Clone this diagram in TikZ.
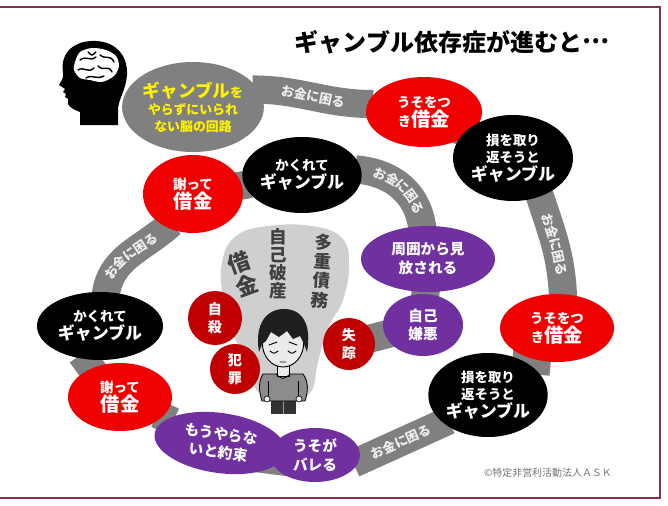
\documentclass[tikz,border=0pt]{standalone}
\usepackage{fontspec}
\newfontfamily\jp{Noto Sans CJK JP}
\usetikzlibrary{shapes.geometric,decorations.text,backgrounds}

\definecolor{bubred}{HTML}{F00000}
\definecolor{dotred}{HTML}{C00000}
\definecolor{bubpurple}{HTML}{7030A0}
\definecolor{bandgray}{HTML}{808080}
\definecolor{bandtext}{HTML}{EEEEEE}
\definecolor{fog}{HTML}{CFCFCF}
\definecolor{ink}{HTML}{404040}
\definecolor{framered}{HTML}{84304A}

% emphasised words inside the bubbles
\newcommand*\gamb{{\fontsize{14.5}{17}\selectfont\bfseries ギャンブル}}
\newcommand*\shakkin{{\fontsize{16.5}{18}\selectfont\bfseries 借金}}

\begin{document}
\begin{tikzpicture}[x=0.03cm, y=-0.03cm,
  bubble/.style={ellipse, inner sep=0pt, outer sep=0pt, align=center, text=white,
    font=\jp\bfseries\fontsize{11.5}{15}\selectfont},
  redbub/.style={bubble, fill=bubred},
  blackbub/.style={bubble, fill=black},
  purplebub/.style={bubble, fill=bubpurple, font=\jp\bfseries\fontsize{12.5}{16}\selectfont},
  dot/.style={circle, fill=dotred, text=white, inner sep=0pt, align=center,
    font=\jp\bfseries\fontsize{12}{15}\selectfont},
  band/.style={draw=bandgray, line width=24pt, shorten <=-5pt, shorten >=-5pt},
  moneyband/.style={band,
    postaction={decorate, decoration={text along path, text align=center,
      raise=-4pt, text={|\jp\bfseries\fontsize{11}{11}\selectfont\color{bandtext}|お金に困る}}}},
  scrawl/.style={text=ink, align=center, inner sep=0pt}
]
\useasboundingbox (0,0) rectangle (668,506);
\draw[framered, line width=1.5pt] (-20,7) -- (660,7) -- (660,498) -- (-20,498);

\node[font=\jp\bfseries\fontsize{20.5}{22}\selectfont] (title) at (452,42)
  {ギャンブル依存症が進むと\raisebox{0.33em}{…}};

% head with the brain
\fill[black] (80,125) -- (80,112) .. controls (75,110) and (70,108) .. (68,104)
  -- (68,99) -- (65,97) -- (66,94) -- (63,92) -- (65,89) -- (59,85)
  .. controls (62,80) and (64,77) .. (63,72)
  .. controls (60,52) and (75,40) .. (96,41)
  .. controls (118,42) and (128,58) .. (127,75)
  .. controls (126,90) and (118,100) .. (118,110) -- (118,125) -- cycle;
\fill[white] plot[smooth cycle] coordinates {(75,62) (80,52) (92,48) (106,50)
  (116,56) (119,66) (114,76) (102,82) (90,80) (80,78) (74,70)};
\draw[black, line width=1.2pt, line cap=round]
  (80,60) .. controls (86,55) and (90,62) .. (96,57)
  (100,55) .. controls (106,60) and (110,54) .. (114,62)
  (78,70) .. controls (84,66) and (88,74) .. (94,68)
  (98,66) .. controls (104,72) and (108,64) .. (112,72)
  (86,78) .. controls (92,74) and (96,80) .. (104,76)
  (88,52) .. controls (92,56) .. (96,52);

% cloud behind the boy
\fill[fog] plot[smooth cycle, tension=0.7] coordinates {(222,262) (236,236) (268,226)
  (312,226) (342,238) (349,265) (343,300) (328,328) (318,362) (310,393) (284,398)
  (258,392) (248,362) (232,332) (223,298)};
\node[scrawl, rotate=20, font=\jp\bfseries\fontsize{19}{21}\selectfont] (loan)
  at (243,274) {借\\金};
\node[scrawl, font=\jp\bfseries\fontsize{15}{15.5}\selectfont] (bankrupt)
  at (278,264) {自\\己\\破\\産};
\node[scrawl, rotate=-4, font=\jp\bfseries\fontsize{15}{16.5}\selectfont] (multidebt)
  at (322,271) {多\\重\\債\\務};

% the boy
\fill[black!80] (271,396) rectangle (296,414);
\draw[white!60!black, line width=0.6pt] (283.5,401) -- (283.5,414);
\filldraw[fill=black!45, draw=black, line width=0.7pt] (263,374)
  .. controls (258,382) and (259,392) .. (262,401) -- (305,401)
  .. controls (308,392) and (309,382) .. (303,374) -- cycle;
\draw[black, line width=0.7pt] (268,381) -- (268,397) (298,381) -- (298,397);
\filldraw[fill=white!92!black, draw=black, line width=0.5pt]
  (267,399) circle [radius=0.09cm] (299,399) circle [radius=0.09cm];
\filldraw[fill=white!92!black, draw=black, line width=0.6pt] (277,364) rectangle (289,376);
\draw[black, line width=0.6pt] (276,374) .. controls (283,380) .. (290,374);
\filldraw[fill=white!92!black, draw=black, line width=0.8pt]
  (283,343) ellipse [x radius=0.62cm, y radius=0.72cm];
\fill[black!88] (259,352) .. controls (254,322) and (268,309) .. (284,309)
  .. controls (302,309) and (312,324) .. (307,352) -- (304,344) -- (300,336)
  -- (293,339) -- (287,331) -- (279,337) -- (271,332) -- (266,341) -- (262,344) -- cycle;
\draw[black, line width=0.8pt, line cap=round]
  (270,351) .. controls (274,354) .. (278,351)
  (288,351) .. controls (292,354) .. (296,351)
  (269,345) -- (277,342) (289,342) -- (297,345)
  (280,362) -- (286,362);

% bubbles along the spiral
\node[bubble, fill=bandgray, text=yellow, minimum width=4.2cm, minimum height=2.7cm,
  font=\jp\bfseries\fontsize{11}{14.5}\selectfont] (brain) at (193,107)
  {{\fontsize{15}{17}\selectfont ギャンブル}を\\やらずにいられ\\ない脳の回路};
\node[redbub, minimum width=3.48cm, minimum height=2.1cm] (lieA) at (424,112)
  {うそをつ\\き\shakkin};
\node[blackbub, minimum width=3.6cm, minimum height=2.58cm] (chaseA) at (513,158)
  {損を取り\\返そうと\\\gamb};
\node[redbub, minimum width=3.42cm, minimum height=2.04cm] (lieB) at (557,328)
  {うそをつ\\き\shakkin};
\node[blackbub, minimum width=3.54cm, minimum height=2.52cm] (chaseB) at (488,395)
  {損を取り\\返そうと\\\gamb};
\node[purplebub, minimum width=2.7cm, minimum height=1.62cm] (caught) at (315,455)
  {うそが\\バレる};
\node[purplebub, minimum width=3.96cm, minimum height=1.8cm, rotate=-8] (promise)
  at (220,443) {もうやらな\\いと約束};
\node[redbub, minimum width=3.12cm, minimum height=2.04cm] (sorryA) at (120,397)
  {謝って\\\shakkin};
\node[blackbub, minimum width=3.78cm, minimum height=2.04cm] (hideA) at (100,326)
  {かくれて\\\gamb};
\node[redbub, minimum width=3.0cm, minimum height=2.34cm] (sorryB) at (193,194)
  {謝って\\\shakkin};
\node[blackbub, minimum width=3.48cm, minimum height=2.28cm] (hideB) at (302,175)
  {かくれて\\\gamb};
\node[purplebub, minimum width=4.02cm, minimum height=1.98cm] (shunned) at (428,259)
  {周囲から見\\放される};
\node[purplebub, minimum width=2.4cm, minimum height=1.86cm] (selfhate) at (423,325)
  {自己\\嫌悪};
\node[dot, minimum size=1.56cm] (vanish) at (349,344) {失\\踪};
\node[dot, minimum size=1.62cm] (suicide) at (215,318) {自\\殺};
\node[dot, minimum size=1.5cm] (crime) at (235,369) {犯\\罪};

\node[text=black!55, font=\jp\fontsize{8.5}{9}\selectfont] (copy) at (548,473)
  {©特定非営利活動法人ＡＳＫ};

% gray road between the bubbles
\begin{scope}[on background layer]
\draw[moneyband] (brain.15) to[out=0,in=180] (lieA.172);
\draw[band] (lieA) -- (chaseA);
\draw[moneyband] (chaseA.-55) to[out=-72,in=92] (lieB.80);
\draw[band] (lieB.250) -- (chaseB.50);
\draw[moneyband] (caught.-8) -- (chaseB.212);
\draw[band] ([yshift=-9pt]promise.center) -- ([yshift=-9pt]caught.center);
\draw[band] (promise) -- (sorryA);
\draw[band] (hideA.245) -- (sorryA.135);
\draw[moneyband] (hideA.80) to[out=85,in=222] (sorryB.232);
\draw[band] (sorryB) -- (hideB);
\draw[moneyband] (hideB.5) to[out=-5,in=95] (shunned.100);
\draw[band] (shunned) -- (selfhate);
\draw[band] (selfhate) -- (vanish);
\end{scope}
\end{tikzpicture}
\end{document}
